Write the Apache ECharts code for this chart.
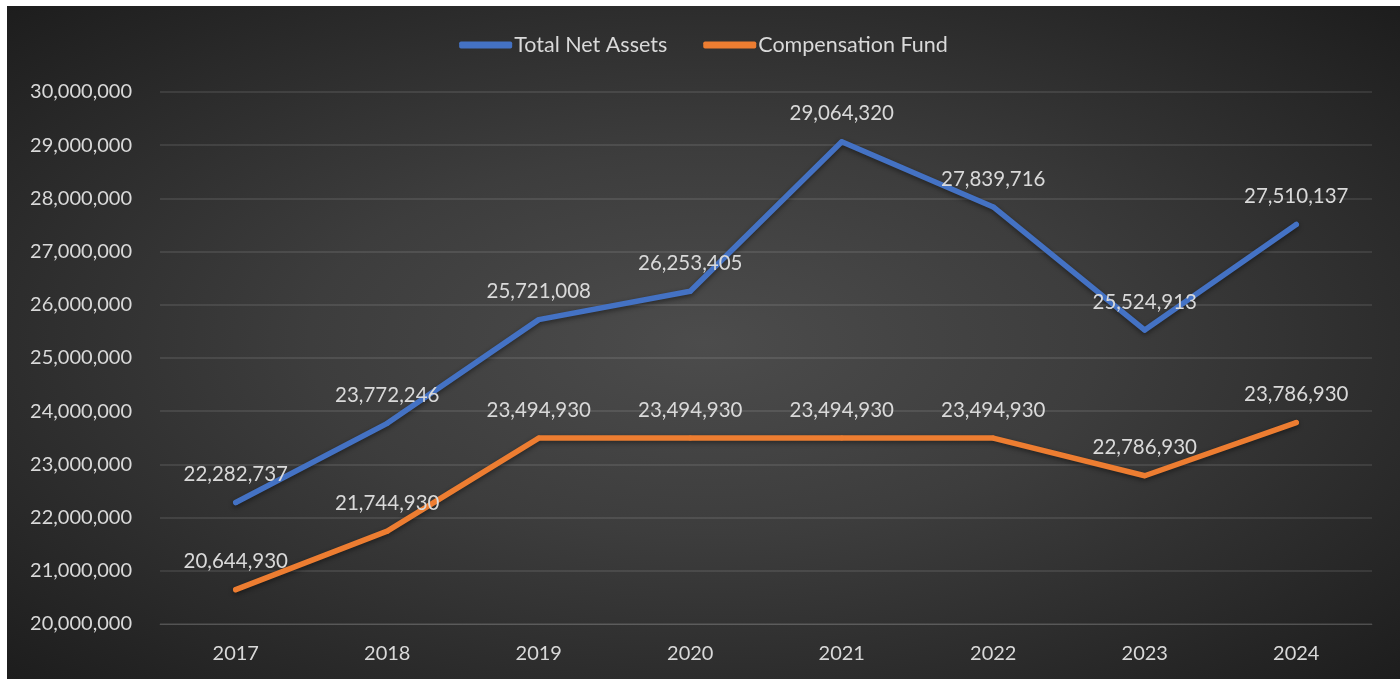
<!DOCTYPE html>
<html>
<head>
<meta charset="utf-8">
<script src="https://cdn.jsdelivr.net/npm/echarts@6/dist/echarts.min.js"></script>
<style>
  html, body { margin: 0; padding: 0; background: #ffffff; width: 1400px; height: 679px; overflow: hidden; }
  #chart { position: absolute; left: 7px; top: 6px; width: 1393px; height: 673px;
    background: radial-gradient(ellipse farthest-corner at 50% 50%, #4c4c4c 0%, #3d3d3d 40%, #1d1d1d 100%); }
</style>
</head>
<body>
<div id="chart"></div>
<script>
const categories = ['2017', '2018', '2019', '2020', '2021', '2022', '2023', '2024'];
const totalNetAssets = [22282737, 23772246, 25721008, 26253405, 29064320, 27839716, 25524913, 27510137];
const compensationFund = [20644930, 21744930, 23494930, 23494930, 23494930, 23494930, 22786930, 23786930];
const seriesNames = ['Total Net Assets', 'Compensation Fund'];

const fmt = v => Number(v).toLocaleString('en-US');
const textColor = '#d9d9d9';
const fontFamily = 'Lato, "Open Sans", sans-serif';

const chart = echarts.init(document.getElementById('chart'), null, { renderer: 'canvas' });

function lineSeries(name, data, color) {
  return {
    name: name,
    type: 'line',
    data: data,
    symbol: 'circle',
    symbolSize: 5,
    showSymbol: true,
    itemStyle: { color: color },
    lineStyle: { width: 5.5, color: color, cap: 'round', join: 'round',
      shadowColor: 'rgba(0,0,0,0.45)', shadowBlur: 5, shadowOffsetY: 2 },
    label: { show: true, position: 'top', distance: 15, color: textColor,
      fontSize: 20.5, fontFamily: fontFamily, formatter: p => fmt(p.value) },
    emphasis: { disabled: true },
    animation: false
  };
}

chart.setOption({
  backgroundColor: 'transparent',
  animation: false,
  legend: {
    top: 23,
    left: 'center',
    itemGap: 36,
    itemWidth: 53,
    itemHeight: 7,
    icon: 'roundRect',
    textStyle: { color: textColor, fontSize: 21.5, fontFamily: fontFamily, padding: [0, 0, 0, -3] },
    data: seriesNames
  },
  grid: { left: 153, right: 28, top: 86, bottom: 55, containLabel: false },
  xAxis: {
    type: 'category',
    data: categories,
    boundaryGap: true,
    axisLine: { show: true, lineStyle: { color: 'rgba(255,255,255,0.13)', width: 1 } },
    axisTick: { show: false },
    axisLabel: { color: textColor, fontSize: 20, fontFamily: fontFamily, margin: 20 },
    splitLine: { show: false }
  },
  yAxis: {
    type: 'value',
    min: 20000000,
    max: 30000000,
    interval: 1000000,
    axisLine: { show: false },
    axisTick: { show: false },
    axisLabel: { color: textColor, fontSize: 20, fontFamily: fontFamily, margin: 28, formatter: v => fmt(v) },
    splitLine: { show: true, lineStyle: { color: 'rgba(255,255,255,0.13)', width: 1.5 } }
  },
  series: [
    lineSeries(seriesNames[0], totalNetAssets, '#4472C4'),
    lineSeries(seriesNames[1], compensationFund, '#ED7D31')
  ]
});
</script>
</body>
</html>
